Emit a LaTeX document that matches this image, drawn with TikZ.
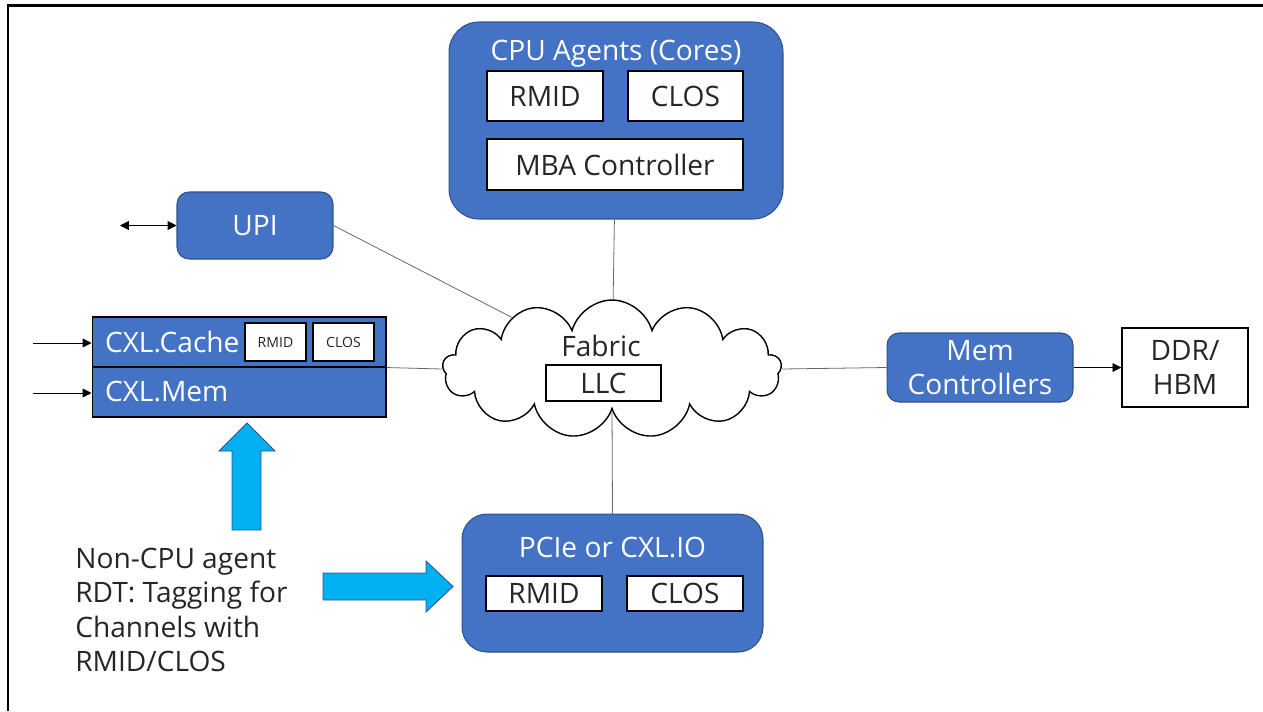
\documentclass[tikz,border=0pt]{standalone}
\usepackage{fontspec}
\setmainfont{Open Sans}
\usetikzlibrary{positioning,shapes.symbols,arrows.meta}
\definecolor{boxblue}{HTML}{4472C4}
\definecolor{boxline}{HTML}{2F528F}
\definecolor{tagcyan}{HTML}{00B0F0}
\definecolor{darktext}{HTML}{262626}

\begin{document}
\begin{tikzpicture}[x=0.02cm,y=-0.02cm,
    font=\fontsize{16}{19.5}\selectfont,
    blk/.style={draw=boxline,fill=boxblue,text=white,line width=0.6pt},
    tag/.style={draw=black,fill=white,text=darktext,line width=0.8pt,inner sep=0pt},
    link/.style={draw=black!60,line width=0.45pt},
    fat/.style={fill=tagcyan,draw=boxline,line width=0.5pt},
    tip/.style={-{Triangle[length=5pt,width=5pt]}}]
    \useasboundingbox (0,0) rectangle (1263,711);
    \draw[line width=1.7pt] (8,711) -- (8,5.5) -- (1263,5.5);

    % CPU agents
    \node[blk,rounded corners=0.6cm,minimum width=6.68cm,minimum height=3.94cm] (cpu) at (616,120.5) {};
    \node[text=white,anchor=base] (cputitle) at (616,60) {CPU Agents (Cores)};
    \node[tag,minimum width=2.32cm,minimum height=1cm] (cpurmid) at (545,96) {RMID};
    \node[tag,minimum width=2.3cm,minimum height=1cm] (cpuclos) at (685.5,96) {CLOS};
    \node[tag,minimum width=5.12cm,minimum height=1.02cm] (mba) at (615,164.5) {MBA Controller};

    % UPI
    \node[blk,rounded corners=0.24cm,minimum width=3.12cm,minimum height=1.34cm] (upi) at (255,225.5) {UPI};
    \coordinate (upiext) at (120,225.5);

    % CXL
    \node[blk,draw=black,text width=5.36cm,inner xsep=0.26cm,align=left,minimum height=1cm] (cache) at (239,342) {CXL.Cache};
    \node[blk,draw=black,text width=5.36cm,inner xsep=0.26cm,align=left,minimum height=1cm] (cxlmem) at (239,392) {CXL.Mem};
    \node[tag,font=\fontsize{8}{10}\selectfont,minimum width=1.22cm,minimum height=0.76cm] (cxlrmid) at (275.5,342) {RMID};
    \node[tag,font=\fontsize{8}{10}\selectfont,minimum width=1.22cm,minimum height=0.76cm] (cxlclos) at (343.5,342) {CLOS};
    \coordinate (in1) at (33,343);
    \coordinate (in2) at (33,393);

    % fabric
    \node[cloud,draw=black,fill=white,line width=0.8pt,cloud puffs=13,aspect=2.5,minimum width=6.78cm,minimum height=2.76cm] (fabric) at (612,369) {};
    \node[text=darktext] (fabtext) at (601,346) {Fabric};
    \node[tag,minimum width=2.3cm,minimum height=0.72cm] (llc) at (603.5,383) {LLC};

    % memory side
    \node[blk,rounded corners=0.24cm,minimum width=3.72cm,minimum height=1.38cm,align=center] (memctl) at (980,367.5) {Mem\\Controllers};
    \node[tag,minimum width=2.52cm,minimum height=1.58cm,align=center] (ddr) at (1185,367.5) {DDR/\\HBM};

    % PCIe
    \node[blk,rounded corners=0.5cm,minimum width=6.02cm,minimum height=2.76cm] (pcie) at (612.5,583) {};
    \node[text=white,anchor=base] (pcietitle) at (612.5,557) {PCIe or CXL.IO};
    \node[tag,minimum width=2.32cm,minimum height=0.7cm] (pcirmid) at (544,593.5) {RMID};
    \node[tag,minimum width=2.32cm,minimum height=0.7cm] (pciclos) at (685,593.5) {CLOS};

    % note + arrows
    \node[align=left,anchor=north west,inner sep=0pt,text=darktext] (note) at (75,548) {Non-CPU agent\\RDT: Tagging for\\Channels with\\RMID/CLOS};
    \draw[fat] (232,530) -- (232,451) -- (219,451) -- (247,423) -- (275,451) -- (261,451) -- (261,530) -- cycle;
    \draw[fat] (323,573) -- (426,573) -- (426,561) -- (453,586.5) -- (426,612) -- (426,600) -- (323,600) -- cycle;

    % connectors
    \draw[link] (upi.east) -- (fabric);
    \draw[link] (cpu) -- (fabric);
    \draw[link] (cache.south east) -- (fabric.west);
    \draw[link] (fabric.east) -- (memctl.west);
    \draw[link] (fabric.south) -- (pcie.north);
    \draw[tip] (memctl.east) -- (ddr.west);
    \draw[{Triangle[length=5pt,width=5pt]}-{Triangle[length=5pt,width=5pt]}] (upiext) -- (upi.west);
    \draw[tip] (in1) -- (in1 -| cache.west);
    \draw[tip] (in2) -- (in2 -| cxlmem.west);
\end{tikzpicture}
\end{document}
